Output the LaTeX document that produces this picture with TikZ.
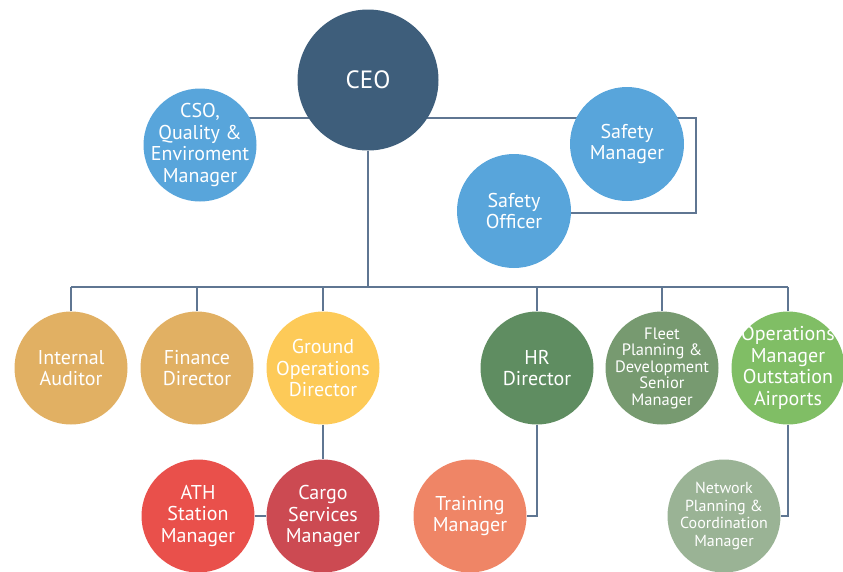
\documentclass[tikz,border=0pt]{standalone}
\usepackage{fontspec}
\setmainfont{PT Sans}
\usetikzlibrary{backgrounds}
\definecolor{ceoblue}{HTML}{3E5E7B}
\definecolor{skyblue}{HTML}{58A5DB}
\definecolor{tan}{HTML}{E1B063}
\definecolor{sunyellow}{HTML}{FDCA58}
\definecolor{darkgreen}{HTML}{5F8D61}
\definecolor{midgreen}{HTML}{779A70}
\definecolor{lightgreen}{HTML}{80BE65}
\definecolor{brightred}{HTML}{E9504B}
\definecolor{darkred}{HTML}{CC4A52}
\definecolor{salmon}{HTML}{EF8566}
\definecolor{sage}{HTML}{9AB395}
\definecolor{linkgray}{HTML}{5F7692}

\begin{document}
\begin{tikzpicture}[x=1pt,y=-1pt,
  person/.style={circle, inner sep=0pt, minimum size=113pt},
  txt/.style={text=white, align=center, inner sep=0pt,
    font=\fontsize{20}{21.5}\selectfont},
  small/.style={txt, font=\fontsize{16.5}{16.5}\selectfont},
  link/.style={draw, line width=2.5pt, linkgray}]
\useasboundingbox (0,0) rectangle (843,571);
% top
\node[person, fill=ceoblue, minimum size=141pt,
  label={[txt, font=\fontsize{25}{27}\selectfont]center:CEO}] (1) at (368,80) {};
\node[person, fill=skyblue, label={[txt]center:{CSO,\\Quality \&\\Enviroment\\Manager}}] (2) at (200,145) {};
\node[person, fill=skyblue, minimum size=114pt, label={[txt]center:{Safety\\Manager}}] (3) at (627,144) {};
\node[person, fill=skyblue, minimum size=114pt, label={[txt]center:{Safety\\Officer}}] (4) at (514,211) {};
% second row
\node[person, fill=tan, label={[txt]center:{Internal\\Auditor}}] (5) at (71,368) {};
\node[person, fill=tan, label={[txt]center:{Finance\\Director}}] (6) at (197,368) {};
\node[person, fill=sunyellow, label={[txt]center:{Ground\\Operations\\Director}}] (7) at (323,368) {};
\node[person, fill=darkgreen, label={[txt]center:{HR\\Director}}] (8) at (537,368) {};
\node[person, fill=midgreen, label={[small]center:{Fleet\\Planning \&\\Development\\Senior\\Manager}}] (9) at (662,368) {};
\node[person, fill=lightgreen, label={[txt]center:{Operations\\Manager\\Outstation\\Airports}}] (10) at (788,368) {};
% third row
\node[person, fill=brightred, label={[txt]center:{ATH\\Station\\Manager}}] (11) at (198,516) {};
\node[person, fill=darkred, label={[txt]center:{Cargo\\Services\\Manager}}] (12) at (323,516) {};
\node[person, fill=salmon, label={[txt]center:{Training\\Manager}}] (13) at (470,516) {};
\node[person, fill=sage, label={[small, font=\fontsize{16}{17.5}\selectfont]center:{Network\\Planning \&\\Coordination\\Manager}}] (14) at (724,516) {};
% connectors
\coordinate (a) at (0,118);
\coordinate (b) at (696,213);
\coordinate (c) at (0,287);
\begin{scope}[on background layer]
\path[link] (2 |- a) -- (1 |- a);
\path[link] (1 |- a) -| (b) -- (4 |- b);
\path[link] (1) -- (1 |- c);
\path[link] (5 |- c) -- (10 |- c);
\path[link] (5) -- (5 |- c);
\path[link] (6) -- (6 |- c);
\path[link] (7) -- (7 |- c);
\path[link] (8) -- (8 |- c);
\path[link] (9) -- (9 |- c);
\path[link] (10) -- (10 |- c);
\path[link] (7) -- (12);
\path[link] (11) -- (12);
\path[link] (8) |- (13);
\path[link] (10) |- (14);
\end{scope}
\end{tikzpicture}
\end{document}
